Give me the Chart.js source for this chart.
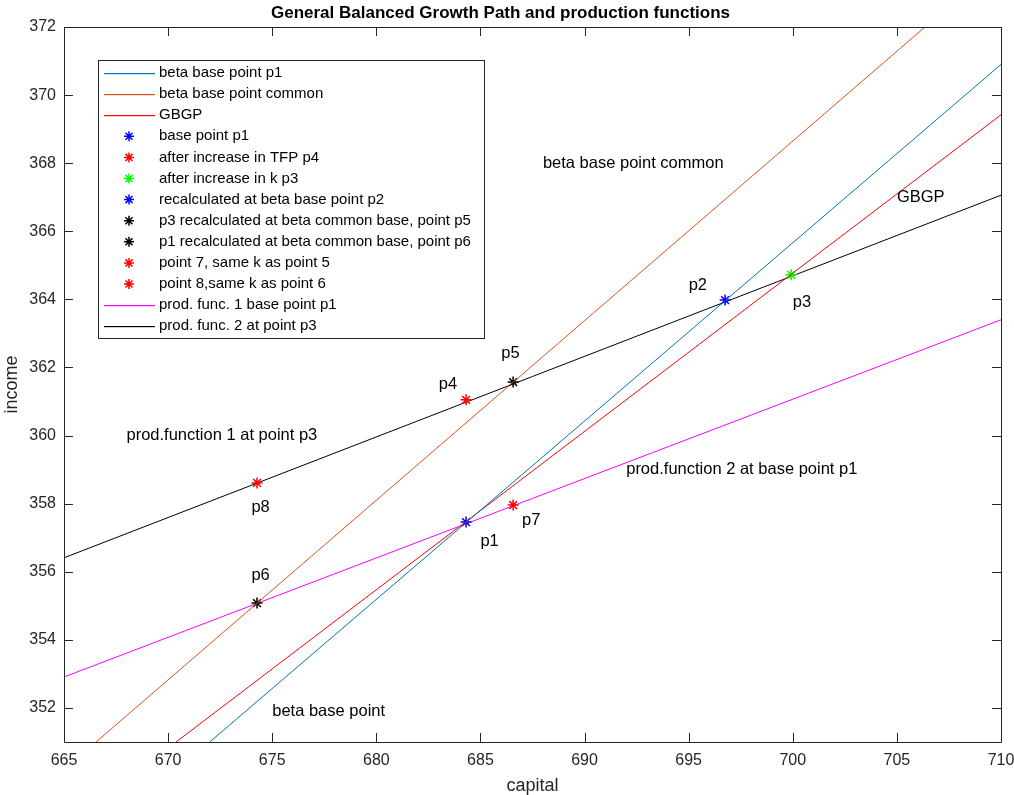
<!DOCTYPE html>
<html>
<head>
<meta charset="utf-8">
<title>General Balanced Growth Path and production functions</title>
<script src="https://cdn.jsdelivr.net/npm/chart.js@4.4.1/dist/chart.umd.min.js"></script>
<style>
    html, body { margin: 0; padding: 0; background: #ffffff; }
    #wrap { width: 1014px; height: 795px; }
</style>
</head>
<body>
<div id="wrap"><canvas id="growthChart"></canvas></div>
<script>
// axis ticks
const capitalTicks = [665, 670, 675, 680, 685, 690, 695, 700, 705, 710];
const incomeTicks = [352, 354, 356, 358, 360, 362, 364, 366, 368, 370, 372];

// lines (two end points each, capital / income)
const betaP1K = [672.0, 710.0];
const betaP1Y = [351.0, 370.9];
const betaCommonK = [666.54, 706.35];
const betaCommonY = [351.0, 372.0];
const gbgpK = [670.38, 710.0];
const gbgpY = [351.0, 369.42];
const prod1K = [665.0, 710.0];
const prod1Y = [352.91, 363.40];
const prod2K = [665.0, 710.0];
const prod2Y = [356.41, 367.06];

// marked points
const p1 = [684.31, 357.46];
const p4 = [684.31, 361.05];
const p3 = [699.92, 364.72];
const p2 = [696.75, 363.98];
const p5 = [686.57, 361.57];
const p6 = [674.27, 355.08];
const p7 = [686.57, 357.96];
const p8 = [674.27, 358.61];

// text labels placed in the axes
const noteText = ['beta base point common', 'GBGP', 'p2', 'p3', 'p5', 'p4',
    'prod.function 1 at point p3', 'prod.function 2 at base point p1',
    'p8', 'p1', 'p7', 'p6', 'beta base point'];
const noteK = [688.0, 705.0, 695.0, 700.0, 686.0, 683.0, 668.0, 692.0, 674.0, 685.0, 687.0, 674.0, 675.0];
const noteY = [368.0, 367.0, 364.4, 363.9, 362.4, 361.5, 360.0, 359.0, 357.9, 356.9, 357.5, 355.9, 351.9];

const FONT = "'Liberation Sans', Arial, Helvetica, sans-serif";
const AXIS = '#262626';

Chart.defaults.font.family = FONT;
Chart.defaults.color = AXIS;

const toXY = (ks, ys) => ks.map((k, i) => ({ x: k, y: ys[i] }));

function lineSet(label, ks, ys, color) {
    return {
        label,
        data: toXY(ks, ys),
        showLine: true,
        borderColor: color,
        backgroundColor: color,
        borderWidth: 1,
        pointRadius: 0,
        kind: 'line',
    };
}

function starSet(label, pt, color) {
    return {
        label,
        data: [{ x: pt[0], y: pt[1] }],
        showLine: false,
        pointStyle: 'star',
        pointRadius: 5.5,
        borderColor: color,
        backgroundColor: color,
        pointBorderWidth: 1.5,
        kind: 'star',
    };
}

const datasets = [
    lineSet('beta base point p1', betaP1K, betaP1Y, '#0072BD'),
    lineSet('beta base point common', betaCommonK, betaCommonY, '#D95319'),
    lineSet('GBGP', gbgpK, gbgpY, '#FF0000'),
    starSet('base point p1', p1, '#0000FF'),
    starSet('after increase in TFP p4', p4, '#FF0000'),
    starSet('after increase in k p3', p3, '#00FF00'),
    starSet('recalculated at beta base point p2', p2, '#0000FF'),
    starSet('p3 recalculated at beta common base, point p5', p5, '#000000'),
    starSet('p1 recalculated at beta common base, point p6', p6, '#000000'),
    starSet('point 7, same k as point 5', p7, '#FF0000'),
    starSet('point 8,same k as point 6', p8, '#FF0000'),
    lineSet('prod. func. 1 base point p1', prod1K, prod1Y, '#FF00FF'),
    lineSet('prod. func. 2 at point p3', prod2K, prod2Y, '#000000'),
];

const matlabAxes = {
    id: 'matlabAxes',
    afterDraw(chart) {
        const { ctx, chartArea: a, scales } = chart;
        const tl = 9;
        ctx.save();
        ctx.strokeStyle = AXIS;
        ctx.lineWidth = 1;
        ctx.beginPath();
        ctx.rect(Math.round(a.left) + 0.5, Math.round(a.top) + 0.5,
            Math.round(a.right - a.left), Math.round(a.bottom - a.top));
        capitalTicks.forEach(v => {
            const px = Math.round(scales.x.getPixelForValue(v)) + 0.5;
            ctx.moveTo(px, a.bottom); ctx.lineTo(px, a.bottom - tl);
            ctx.moveTo(px, a.top); ctx.lineTo(px, a.top + tl);
        });
        incomeTicks.forEach(v => {
            const py = Math.round(scales.y.getPixelForValue(v)) + 0.5;
            ctx.moveTo(a.left, py); ctx.lineTo(a.left + tl, py);
            ctx.moveTo(a.right, py); ctx.lineTo(a.right - tl, py);
        });
        ctx.stroke();

        // text labels
        ctx.fillStyle = '#000000';
        ctx.font = '16.5px ' + FONT;
        ctx.textAlign = 'left';
        ctx.textBaseline = 'middle';
        noteText.forEach((t, i) => {
            ctx.fillText(t, scales.x.getPixelForValue(noteK[i]), scales.y.getPixelForValue(noteY[i]));
        });

        // legend box
        const bx = Math.round(a.left) + 34, by = Math.round(a.top) + 33, bw = 386, bh = 278, row = 21.1;
        ctx.fillStyle = '#ffffff';
        ctx.fillRect(bx, by, bw, bh);
        ctx.strokeStyle = AXIS;
        ctx.lineWidth = 1;
        ctx.strokeRect(bx + 0.5, by + 0.5, bw, bh);
        ctx.font = '15px ' + FONT;
        chart.data.datasets.forEach((ds, i) => {
            const y = by + 13 + i * row;
            if (ds.kind === 'line') {
                ctx.fillStyle = ds.borderColor;
                ctx.fillRect(bx + 6, Math.round(y), 51, 1.2);
            } else {
                const cx = bx + 31, r = 5, d = r * Math.SQRT1_2;
                ctx.strokeStyle = ds.borderColor;
                ctx.lineWidth = 1.5;
                ctx.beginPath();
                ctx.moveTo(cx - r, y); ctx.lineTo(cx + r, y);
                ctx.moveTo(cx, y - r); ctx.lineTo(cx, y + r);
                ctx.moveTo(cx - d, y - d); ctx.lineTo(cx + d, y + d);
                ctx.moveTo(cx - d, y + d); ctx.lineTo(cx + d, y - d);
                ctx.stroke();
            }
            ctx.fillStyle = '#000000';
            ctx.fillText(ds.label, bx + 61, y);
        });
        ctx.restore();
    }
};

new Chart(document.getElementById('growthChart'), {
    type: 'scatter',
    data: { datasets },
    options: {
        responsive: true,
        maintainAspectRatio: false,
        animation: false,
        layout: { padding: { top: 0, right: 13, bottom: 0, left: 0 } },
        plugins: {
            legend: { display: false },
            tooltip: { enabled: false },
            title: {
                display: true,
                text: 'General Balanced Growth Path and production functions',
                color: '#000000',
                font: { size: 17, weight: 'bold', lineHeight: 1.2 },
                padding: { top: 3, bottom: 3.6 },
            }
        },
        scales: {
            x: {
                type: 'linear',
                position: 'bottom',
                min: 665,
                max: 710,
                afterBuildTicks: s => { s.ticks = capitalTicks.map(v => ({ value: v })); },
                afterFit: s => { s.height = 53; s.paddingLeft = 0; s.paddingRight = 0; },
                grid: { display: false, drawTicks: false },
                border: { display: false },
                ticks: { color: AXIS, padding: 9, maxRotation: 0, font: { size: 16 } },
                title: {
                    display: true, text: 'capital', color: AXIS,
                    font: { size: 18, lineHeight: 1 }, padding: 0,
                },
            },
            y: {
                type: 'linear',
                min: 351,
                max: 372,
                afterBuildTicks: s => { s.ticks = incomeTicks.map(v => ({ value: v })); },
                afterFit: s => { s.width = 64; s.paddingTop = 0; s.paddingBottom = 0; },
                grid: { display: false, drawTicks: false },
                border: { display: false },
                ticks: { color: AXIS, padding: 8, font: { size: 16 } },
                title: {
                    display: true, text: 'income', color: AXIS,
                    font: { size: 18, lineHeight: 1 }, padding: { top: 3, bottom: 0 },
                },
            }
        }
    },
    plugins: [matlabAxes]
});
</script>
</body>
</html>
